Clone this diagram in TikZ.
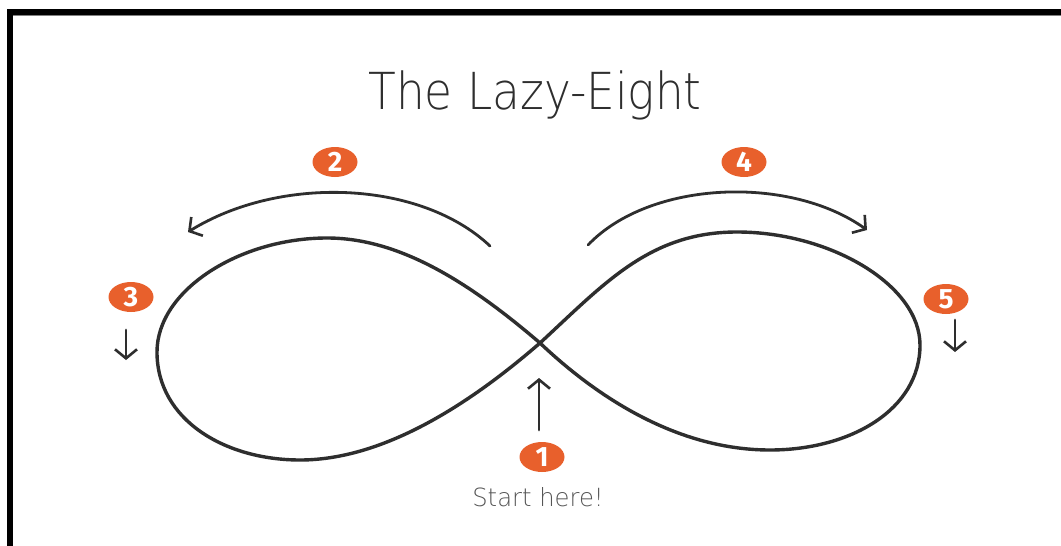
\documentclass[tikz,border=0pt]{standalone}
\usepackage{fontspec}
\usetikzlibrary{arrows.meta,shapes.geometric}
\newfontfamily\titlefont{DejaVu Sans ExtraLight}
\newfontfamily\numfont{Fira Sans}
\definecolor{badge}{HTML}{E8602C}
\definecolor{ink}{HTML}{2E2E2E}
\definecolor{softink}{HTML}{555555}
\tikzset{
  badgenode/.style={ellipse, fill=badge, minimum width=45pt, minimum height=30pt, inner sep=0pt,
    text=white, font=\numfont\bfseries\fontsize{28}{28}\selectfont},
  eightline/.style={draw=ink, line width=3.4pt, line cap=round, line join=round},
  flowarrow/.style={draw=ink, line width=2.8pt, line cap=round,
    -{Straight Barb[length=9pt,width=22pt,line width=2.6pt]}},
}
\begin{document}
\begin{tikzpicture}[x=1pt,y=-1pt]
\clip (0,0) rectangle (1061,546);
\fill[white] (0,0) rectangle (1061,546);
% frame
\draw[black, line width=6pt] (9.5,11.5) rectangle (1075,560);
\draw[gray, line width=1pt] (13,15) -- (1061,15);
% title
\node[anchor=base, text=ink, inner sep=0pt] (title) at (535,109)
  {\scalebox{0.89}[1]{\titlefont\fontsize{51}{51}\selectfont The Lazy-Eight}};
% the lazy eight
\coordinate (cross) at (540,343);
\coordinate (ltop) at (327,238);
\coordinate (lleft) at (157,352);
\coordinate (lbot) at (300,460);
\coordinate (rtop) at (737,232);
\coordinate (rright) at (920,345);
\coordinate (rbot) at (770,450);
\draw[eightline] (cross) .. controls (470,283) and (400,238) .. (ltop)
  .. controls (240,238) and (157,290) .. (lleft)
  .. controls (157,420) and (225,460) .. (lbot)
  .. controls (390,460) and (480,395) .. (cross)
  .. controls (605,283) and (650,232) .. (rtop)
  .. controls (830,232) and (920,285) .. (rright)
  .. controls (920,410) and (850,450) .. (rbot)
  .. controls (680,450) and (600,400) .. (cross);
% badges
\node[badgenode] (b1) at (542,457) {1};
\node[badgenode] (b2) at (335,162) {2};
\node[badgenode] (b3) at (131,297) {3};
\node[badgenode] (b4) at (744,162) {4};
\node[badgenode] (b5) at (946,299) {5};
% start label
\node[anchor=base, text=softink, inner sep=0pt] (start) at (538,506)
  {\scalebox{0.97}[1]{\titlefont\fontsize{25}{25}\selectfont Start here!}};
% arrows
\coordinate (a1s) at (539,430);
\coordinate (a1e) at (539,378);
\draw[flowarrow] (a1s) -- (a1e);
\coordinate (a2s) at (490,246);
\coordinate (a2e) at (188,232);
\draw[flowarrow] (a2s) .. controls (420,180) and (280,175) .. (a2e);
\coordinate (a4s) at (588,245);
\coordinate (a4e) at (867,230);
\draw[flowarrow] (a4s) .. controls (650,180) and (790,175) .. (a4e);
\coordinate (a3s) at (126,330);
\coordinate (a3e) at (126,360);
\draw[flowarrow] (a3s) -- (a3e);
\coordinate (a5s) at (955,320);
\coordinate (a5e) at (955,352);
\draw[flowarrow] (a5s) -- (a5e);
\end{tikzpicture}
\end{document}
